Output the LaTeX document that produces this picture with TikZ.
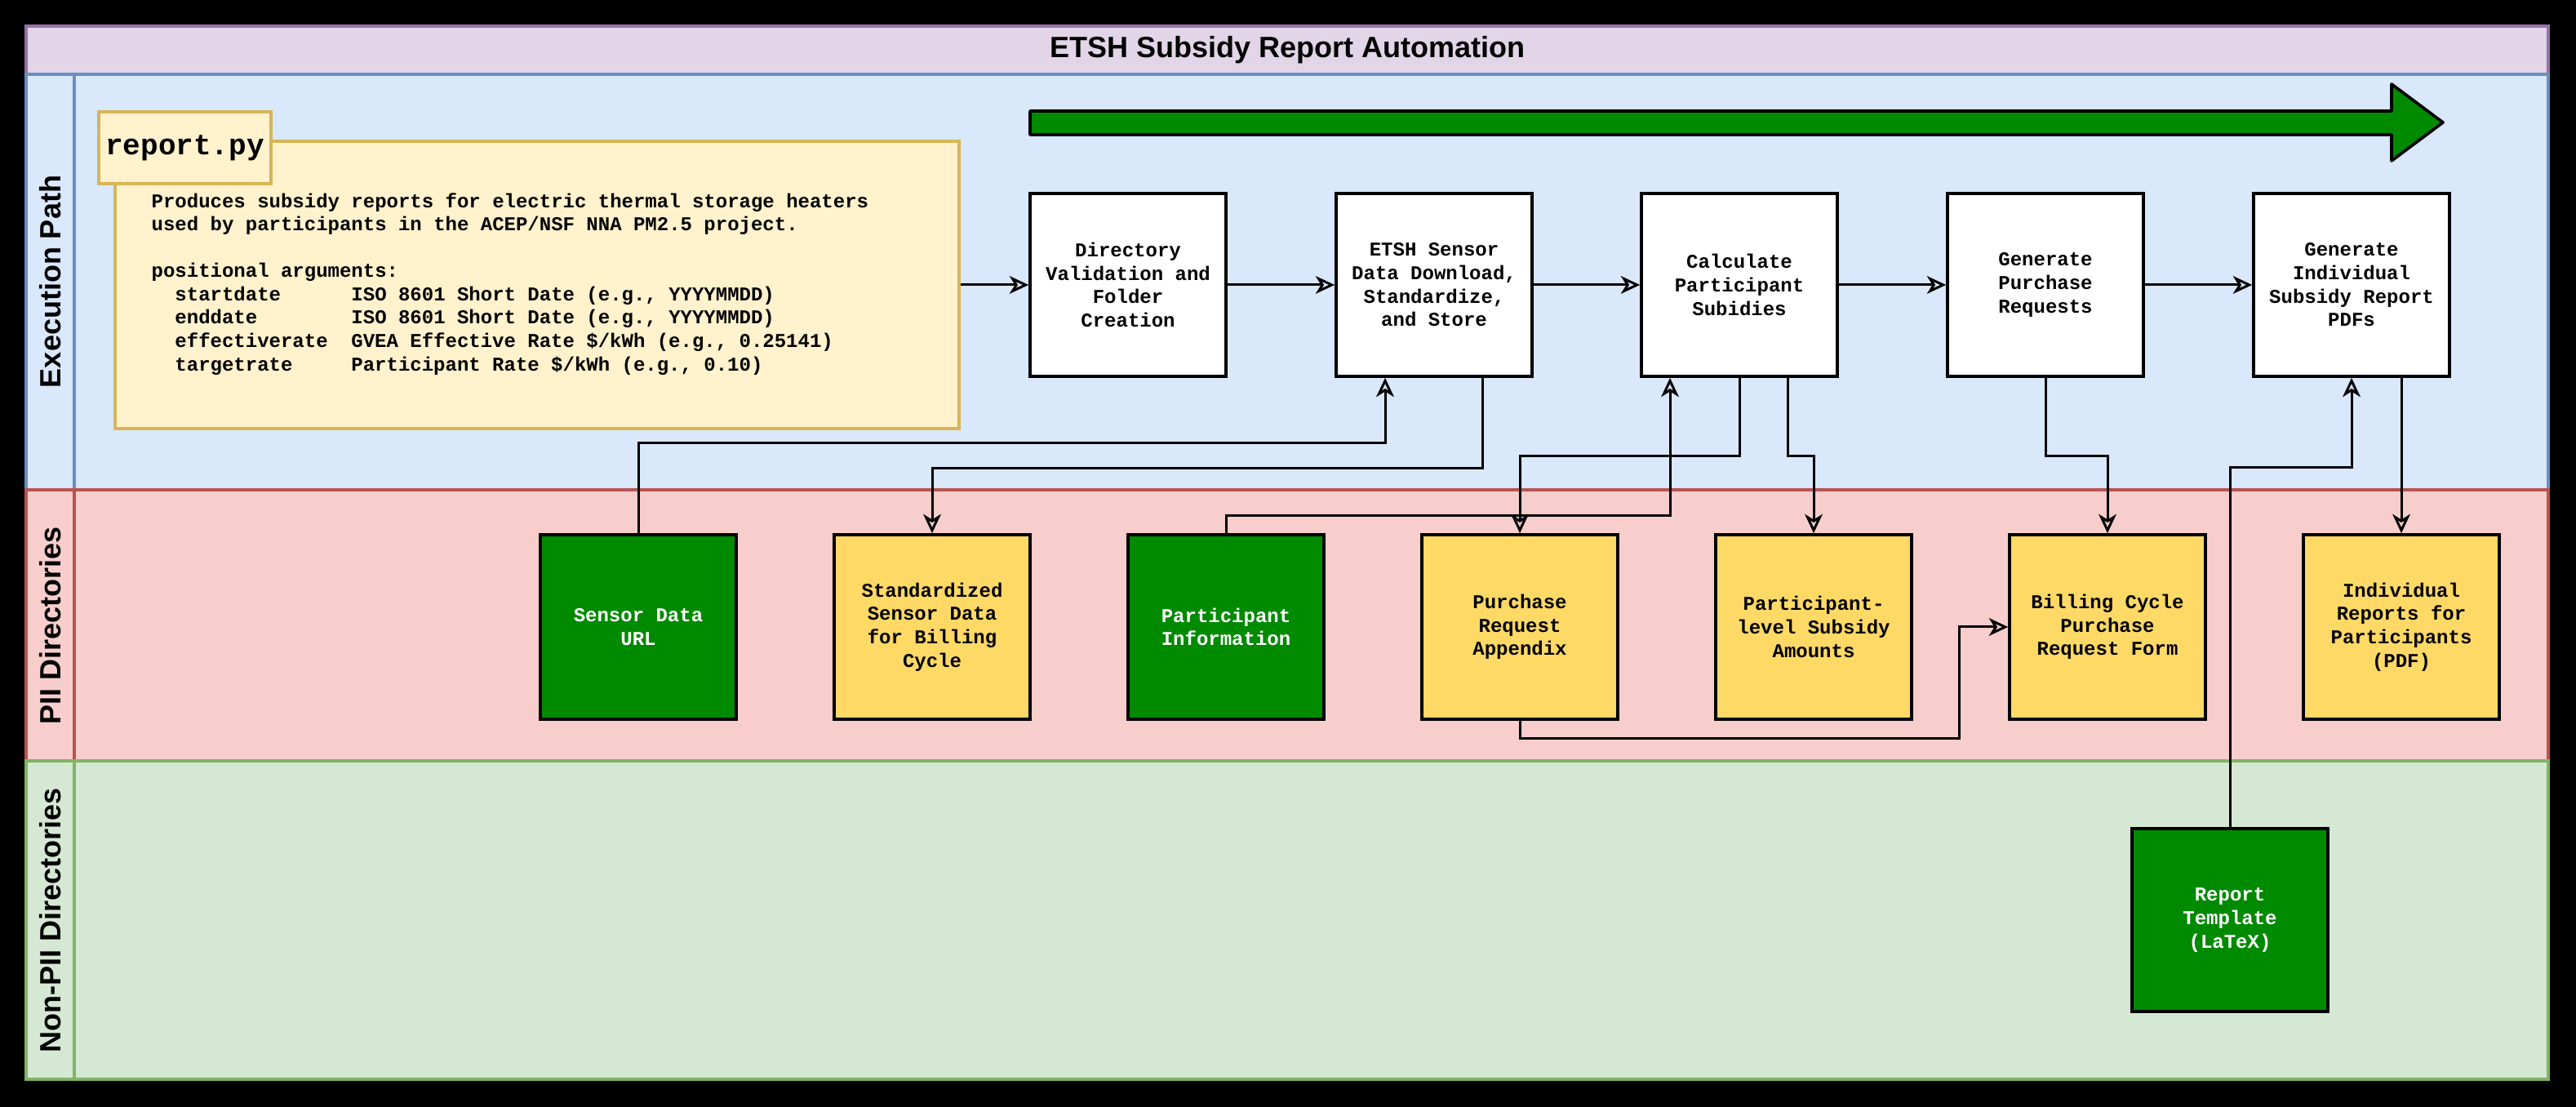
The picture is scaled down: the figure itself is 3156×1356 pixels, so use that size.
\documentclass[tikz,border=0pt]{standalone}
\usepackage{fontspec}
\setmainfont{Liberation Sans}
\setmonofont{Liberation Mono}
\usetikzlibrary{arrows.meta,calc}
\definecolor{titlefill}{HTML}{E1D5E7}
\definecolor{titledraw}{HTML}{9673A6}
\definecolor{execfill}{HTML}{DAE8FC}
\definecolor{execdraw}{HTML}{6C8EBF}
\definecolor{piifill}{HTML}{F8CECC}
\definecolor{piidraw}{HTML}{B85450}
\definecolor{npfill}{HTML}{D5E8D4}
\definecolor{npdraw}{HTML}{82B366}
\definecolor{notefill}{HTML}{FFF2CC}
\definecolor{notedraw}{HTML}{D6B656}
\definecolor{dgreen}{HTML}{008A00}
\definecolor{dyellow}{HTML}{FFD966}
\begin{document}
\begin{tikzpicture}[x=0.3pt,y=-0.3pt,
  boxtext/.style={font=\fontsize{7.2}{8.6}\selectfont\ttfamily\bfseries, align=center},
  procbox/.style={boxtext, draw=black, line width=1.1pt, fill=white, minimum width=72pt, minimum height=67.2pt, inner sep=0pt},
  piibox/.style={boxtext, draw=black, line width=1.1pt, fill=dyellow, minimum width=72pt, minimum height=67.8pt, inner sep=0pt},
  keybox/.style={piibox, fill=dgreen, text=white},
  conn/.style={draw=black, line width=0.9pt},
  arr/.style={conn, -{Stealth[open, length=7pt, width=6.5pt, inset=2pt]}},
  lanelabel/.style={font=\fontsize{10.8}{13}\selectfont\bfseries, rotate=90},
  lanebox/.style={line width=1pt},
]
% background
\fill[black] (0,0) rectangle (3156,1356);
% pool and lanes
\filldraw[lanebox, fill=titlefill, draw=titledraw] (32,32) rectangle (3122,91);
\filldraw[lanebox, fill=execfill, draw=execdraw] (32,91) rectangle (3122,600);
\draw[lanebox, draw=execdraw] (91,91) -- (91,600);
\filldraw[lanebox, fill=piifill, draw=piidraw] (32,600) rectangle (3122,932);
\draw[lanebox, draw=piidraw] (91,600) -- (91,932);
\filldraw[lanebox, fill=npfill, draw=npdraw] (32,932) rectangle (3122,1322);
\draw[lanebox, draw=npdraw] (91,932) -- (91,1322);

\node[font=\fontsize{10.8}{13}\selectfont\bfseries] (title) at (1577,61) {ETSH Subsidy Report Automation};
\node[lanelabel] (lblExec) at (61.5,345) {Execution Path};
\node[lanelabel] (lblPII) at (61.5,766) {PII Directories};
\node[lanelabel] (lblNonPII) at (61.5,1127) {Non-PII Directories};

% big green arrow
\filldraw[fill=dgreen, draw=black, line width=1.1pt, line join=round]
  (1262,136) -- (2930,136) -- (2930,103) -- (2993,150) -- (2930,197) -- (2930,165) -- (1262,165) -- cycle;

% description note
\node[draw=notedraw, fill=notefill, line width=1.1pt, minimum width=310.2pt, minimum height=105.6pt, inner sep=0pt] (desc) at (658,349) {};
\node[draw=notedraw, fill=notefill, line width=1.1pt, minimum width=63.3pt, minimum height=26.4pt, inner sep=0pt,
  font=\fontsize{10.8}{13}\selectfont\ttfamily\bfseries] (tab) at (226.5,181) {report.py};
\node[anchor=west, align=left, inner sep=0pt, font=\fontsize{7.2}{8.6}\selectfont\ttfamily\bfseries] (descText) at (185,348)
{Produces subsidy reports for electric thermal storage heaters\\
used by participants in the ACEP/NSF NNA PM2.5 project.\\[8.4pt]
positional arguments:\\
\hspace*{1.2em}\makebox[9em][l]{startdate}ISO 8601 Short Date (e.g., YYYYMMDD)\\
\hspace*{1.2em}\makebox[9em][l]{enddate}ISO 8601 Short Date (e.g., YYYYMMDD)\\
\hspace*{1.2em}\makebox[9em][l]{effectiverate}GVEA Effective Rate \$/kWh (e.g., 0.25141)\\
\hspace*{1.2em}\makebox[9em][l]{targetrate}Participant Rate \$/kWh (e.g., 0.10)};

% process boxes
\node[procbox] (p1) at (1382,349) {Directory\\Validation and\\Folder\\Creation};
\node[procbox] (p2) at (1757,349) {ETSH Sensor\\Data Download,\\Standardize,\\and Store};
\node[procbox] (p3) at (2131,349) {Calculate\\Participant\\Subidies};
\node[procbox] (p4) at (2506,349) {Generate\\Purchase\\Requests};
\node[procbox] (p5) at (2881,349) {Generate\\Individual\\Subsidy Report\\PDFs};

% PII data boxes
\node[keybox] (d1) at (782,768) {Sensor Data\\URL};
\node[piibox] (d2) at (1142,768) {Standardized\\Sensor Data\\for Billing\\Cycle};
\node[keybox] (d3) at (1502,768) {Participant\\Information};
\node[piibox] (d4) at (1862,768) {Purchase\\Request\\Appendix};
\node[piibox] (d5) at (2222,768) {Participant-\\level Subsidy\\Amounts};
\node[piibox] (d6) at (2582,768) {Billing Cycle\\Purchase\\Request Form};
\node[piibox] (d7) at (2942,768) {Individual\\Reports for\\Participants\\(PDF)};

% non-PII
\node[keybox, minimum height=67.2pt] (rt) at (2732,1127) {Report\\Template\\(LaTeX)};

% connectors
\draw[arr] (desc.east) -- (p1.west);
\draw[arr] (p1.east) -- (p2.west);
\draw[arr] (p2.east) -- (p3.west);
\draw[arr] (p3.east) -- (p4.west);
\draw[arr] (p4.east) -- (p5.west);

\draw[arr] (d1.north) |- ($(p2.south)+(-60,80)$) -- ($(p2.south)+(-60,0)$);
\draw[arr] ($(p2.south)+(59,0)$) -- ($(p2.south)+(59,111)$) -| (d2.north);
\draw[arr] (d3.north) |- ($(p3.south)+(-85,169)$) -- ($(p3.south)+(-85,0)$);
\draw[arr] (p3.south) -- ($(p3.south)+(0,96)$) -| (d4.north);
\draw[arr] ($(p3.south)+(59,0)$) -- ($(p3.south)+(59,96)$) -| (d5.north);
\draw[arr] (p4.south) -- ($(p4.south)+(0,96)$) -| (d6.north);
\draw[arr] (d4.south) -- ($(d4.south)+(0,22)$) -| ($(d6.west)+(-60,0)$) -- (d6.west);
\draw[arr] (rt.north) |- ($(p5.south)+(0,110)$) -- (p5.south);
\draw[arr] ($(p5.south)+(61,0)$) -- (d7.north);
\end{tikzpicture}
\end{document}
